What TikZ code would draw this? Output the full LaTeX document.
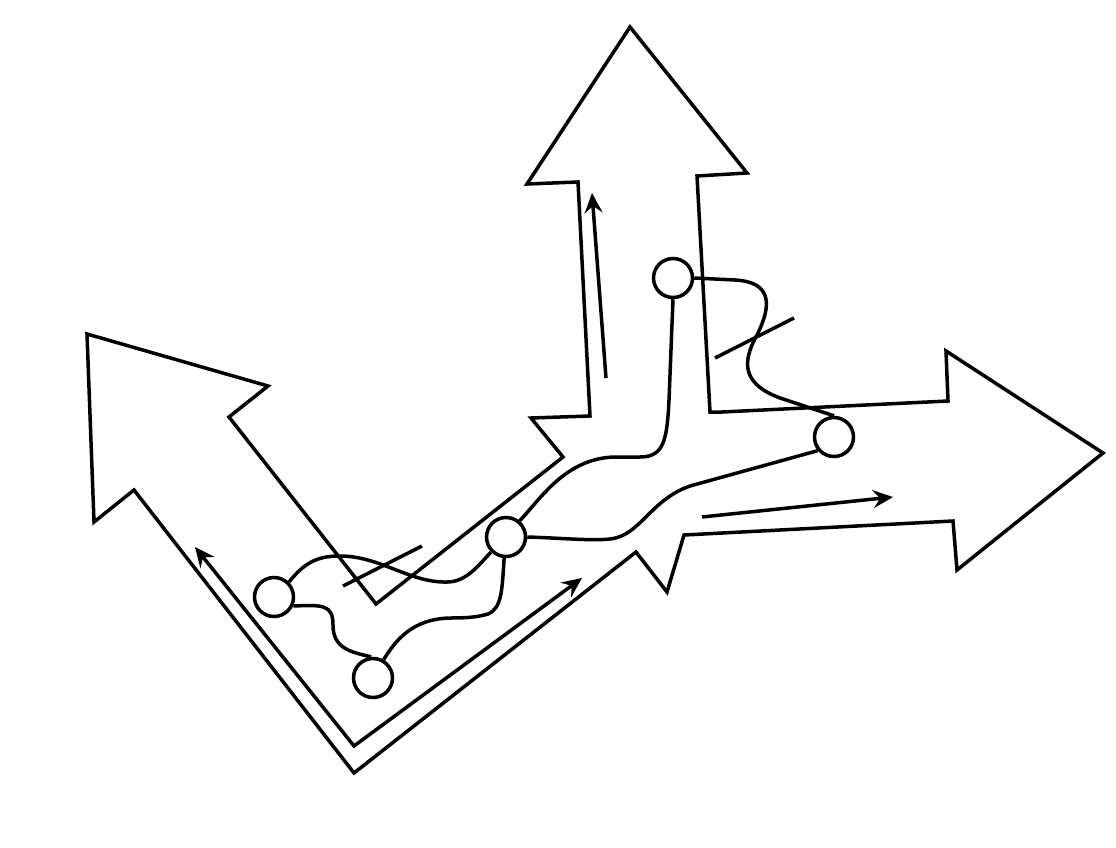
\documentclass[tikz,border=0pt]{standalone}
\usetikzlibrary{arrows.meta}
\begin{document}
\begin{tikzpicture}[x=1pt,y=-1pt,line width=3.5pt,line join=miter,
  ball/.style={draw,circle,fill=white,minimum size=39pt,inner sep=0pt,line width=3.5pt},
  tip/.style={-{Stealth[length=20pt,width=18pt,inset=7pt]}},
  tips/.style={{Stealth[length=20pt,width=18pt,inset=7pt]}-{Stealth[length=20pt,width=18pt,inset=7pt]}}]
\useasboundingbox (0,0) rectangle (1116,848);
% outline of the three-way arrow shape
\draw (87,334) -- (268,386) -- (229,417) -- (376,604) -- (563,457) -- (531,418)
  -- (590,416) -- (578,182) -- (527,184) -- (630,27) -- (747,173) -- (697,176)
  -- (710,412) -- (722,412) -- (948,401) -- (946,351) -- (1103,453) -- (957,570)
  -- (953,521) -- (684,535) -- (667,592) -- (636,552) -- (354,773) -- (134,490)
  -- (94,522) -- cycle;
% direction arrows
\coordinate (vl) at (195,547);
\coordinate (vb) at (354,746);
\coordinate (vr) at (582,578);
\draw[tips] (vl) -- (vb) -- (vr);
\coordinate (us) at (606,378);
\coordinate (ue) at (592,193);
\draw[tip] (us) -- (ue);
\coordinate (rs) at (702,517);
\coordinate (re) at (893,497);
\draw[tip] (rs) -- (re);
% cross strokes
\coordinate (k1a) at (343,586);
\coordinate (k1b) at (422,546);
\draw (k1a) -- (k1b);
\coordinate (k2a) at (715,358);
\coordinate (k2b) at (794,318);
\draw (k2a) -- (k2b);
% nodes
\node[ball] (A) at (274,597) {};
\node[ball] (B) at (373,678) {};
\node[ball] (C) at (506,537) {};
\node[ball] (D) at (673,278) {};
\node[ball] (E) at (834,437) {};
% curves
\draw (A.45) .. controls (305,562) and (318,556) .. (340,556)
  .. controls (380,556) and (410,583) .. (447,582)
  .. controls (466,582) and (478,566) .. (C.225);
\draw (A.-25) .. controls (322,605) and (333,604) .. (333,625)
  .. controls (333,648) and (350,652) .. (B.95);
\draw (B.60) .. controls (396,640) and (412,619) .. (450,618)
  .. controls (468,618) and (478,617) .. (488,614)
  .. controls (502,608) and (502,590) .. (C.265);
\draw (C.50) .. controls (540,500) and (565,458) .. (615,457)
  -- (640,457) .. controls (664,457) and (667,440) .. (669,400) -- (D.south);
\draw (C.east) .. controls (560,538) and (592,541) .. (610,539)
  .. controls (640,536) and (650,500) .. (690,486) -- (E.220);
\draw (D.east) -- (735,280) .. controls (772,282) and (772,305) .. (757,335)
  .. controls (740,365) and (745,385) .. (780,398) -- (E.north);
\end{tikzpicture}
\end{document}
